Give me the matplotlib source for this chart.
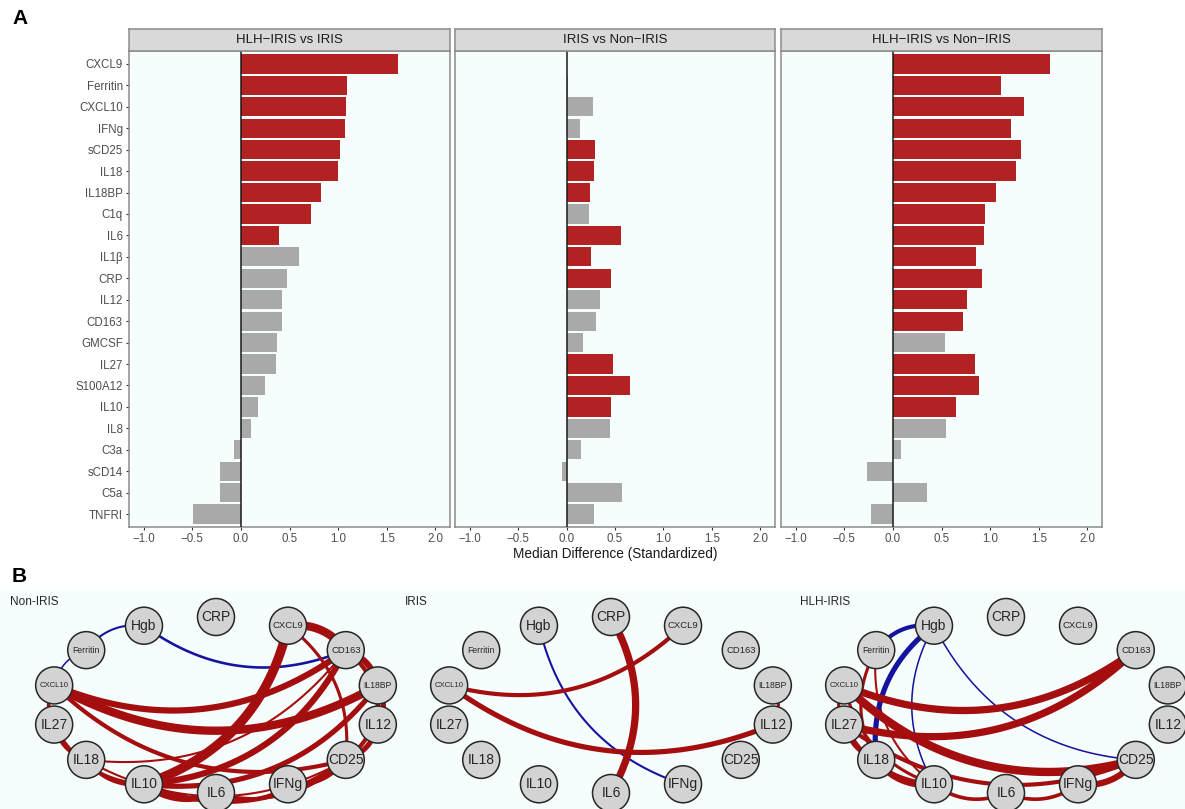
import numpy as np
import matplotlib
matplotlib.use("Agg")
import matplotlib.pyplot as plt
from matplotlib.patches import Circle
from matplotlib.ticker import FuncFormatter

plt.rcParams["font.family"] = ["Liberation Sans", "DejaVu Sans"]

W, H = 1185, 809

# ---- panel A data: median difference (standardized) per marker ----
MARKERS = ["CXCL9", "Ferritin", "CXCL10", "IFNg", "sCD25", "IL18", "IL18BP", "C1q",
           "IL6", "IL1\u03b2", "CRP", "IL12", "CD163", "GMCSF", "IL27", "S100A12",
           "IL10", "IL8", "C3a", "sCD14", "C5a", "TNFRI"]
COMPARISONS = ["HLH\u2212IRIS vs IRIS", "IRIS vs Non\u2212IRIS", "HLH\u2212IRIS vs Non\u2212IRIS"]

DIFF_HLH_VS_IRIS = [1.62, 1.09, 1.08, 1.07, 1.02, 1.00, 0.82, 0.72, 0.39, 0.60, 0.47,
                    0.42, 0.42, 0.37, 0.36, 0.25, 0.18, 0.10, -0.07, -0.21, -0.21, -0.49]
DIFF_IRIS_VS_NON = [0.00, 0.02, 0.27, 0.14, 0.29, 0.28, 0.24, 0.23, 0.56, 0.25, 0.46,
                    0.35, 0.30, 0.17, 0.48, 0.65, 0.46, 0.45, 0.15, -0.05, 0.57, 0.28]
DIFF_HLH_VS_NON = [1.62, 1.11, 1.35, 1.21, 1.32, 1.27, 1.06, 0.95, 0.94, 0.85, 0.92,
                   0.76, 0.72, 0.54, 0.84, 0.89, 0.65, 0.55, 0.08, -0.27, 0.35, -0.22]

SIG_HLH_VS_IRIS = [1, 1, 1, 1, 1, 1, 1, 1, 1, 0, 0, 0, 0, 0, 0, 0, 0, 0, 0, 0, 0, 0]
SIG_IRIS_VS_NON = [0, 0, 0, 0, 1, 1, 1, 0, 1, 1, 1, 0, 0, 0, 1, 1, 1, 0, 0, 0, 0, 0]
SIG_HLH_VS_NON = [1, 1, 1, 1, 1, 1, 1, 1, 1, 1, 1, 1, 1, 0, 1, 1, 1, 0, 0, 0, 0, 0]

X_TICKS = [-1.0, -0.5, 0.0, 0.5, 1.0, 1.5, 2.0]

# ---- panel B data: correlation networks ----
NODES = ["Hgb", "Ferritin", "CXCL10", "IL27", "IL18", "IL10", "IL6", "IFNg",
         "CD25", "IL12", "IL18BP", "CD163", "CXCL9", "CRP"]
GROUPS = ["Non-IRIS", "IRIS", "HLH-IRIS"]

EDGES_NON_IRIS = [
    ("Hgb", "Ferritin", -0.58), ("Ferritin", "CXCL10", -0.56), ("Hgb", "CD163", -0.60),
    ("CXCL9", "CD163", 0.82), ("IL18BP", "CD163", 0.74), ("IL12", "CD163", 0.66),
    ("IL12", "IL18BP", 0.70), ("CD25", "IL12", 0.70), ("CD25", "IL18BP", 0.66),
    ("CD25", "CXCL9", 0.62), ("CXCL10", "CD163", 0.74), ("CXCL10", "IL18BP", 0.82),
    ("CXCL10", "CD25", 0.66), ("IL10", "CXCL9", 0.86), ("IL10", "CD163", 0.74),
    ("IL10", "IL18BP", 0.70), ("IL18", "CD163", 0.58), ("IL10", "IL6", 0.72),
    ("IL10", "CD25", 0.68), ("IL6", "CD25", 0.60), ("IL6", "IFNg", 0.58),
    ("IFNg", "CD25", 0.64), ("IL18", "IL10", 0.64), ("IL27", "IL18", 0.64),
    ("IL27", "IL10", 0.60), ("CXCL10", "IL27", 0.64), ("IL18", "CD25", 0.58),
]
EDGES_IRIS = [
    ("CXCL10", "CXCL9", 0.66), ("CXCL10", "IL12", 0.70), ("IL6", "CRP", 0.78),
    ("Hgb", "IFNg", -0.58), ("IL12", "IL18BP", 0.62),
]
EDGES_HLH_IRIS = [
    ("Hgb", "Ferritin", -0.66), ("Hgb", "IL18", -0.70), ("Hgb", "IL10", -0.56),
    ("Hgb", "CD25", -0.56), ("Ferritin", "IL18", 0.62), ("Ferritin", "IL10", 0.58),
    ("CXCL10", "IL27", 0.62), ("CXCL10", "CD163", 0.78), ("IL27", "CD163", 0.78),
    ("CXCL10", "CD25", 0.82), ("IL27", "CD25", 0.66), ("IFNg", "CD25", 0.74),
    ("IL27", "IL10", 0.66), ("IL18", "IL10", 0.74), ("IL27", "IL18", 0.62),
    ("IL10", "IL6", 0.64), ("IL6", "IFNg", 0.64), ("CXCL10", "IL10", 0.62),
]

RED = "#B22222"
GREY = "#A9A9A9"
PANEL_BG = "#F6FDFD"
EDGE_POS = "#A50E0E"
EDGE_NEG = "#1414A0"


def px_axes(fig, x0, y0, x1, y1):
    return fig.add_axes([x0 / W, 1 - y1 / H, (x1 - x0) / W, (y1 - y0) / H])


def fmt_tick(v, _pos):
    return f"{v:.1f}".replace("-", "\u2212")


fig = plt.figure(figsize=(W / 100, H / 100), dpi=100)
fig.patch.set_facecolor("white")

# ---------------- panel A ----------------
panels_x = [(129, 450), (455, 775), (781, 1102)]
diffs = [DIFF_HLH_VS_IRIS, DIFF_IRIS_VS_NON, DIFF_HLH_VS_NON]
sigs = [SIG_HLH_VS_IRIS, SIG_IRIS_VS_NON, SIG_HLH_VS_NON]
ypos = np.arange(len(MARKERS))

for k, ((x0, x1), vals, sig, title) in enumerate(zip(panels_x, diffs, sigs, COMPARISONS)):
    ax = px_axes(fig, x0, 51, x1, 527)
    ax.set_facecolor(PANEL_BG)
    colors = [RED if s else GREY for s in sig]
    ax.barh(ypos, vals, height=0.9, color=colors, zorder=2)
    ax.axvline(0, color="#1a1a1a", lw=1.1, zorder=3)
    ax.set_xlim(-1.15, 2.15)
    ax.set_ylim(len(MARKERS) - 0.4, -0.6)
    ax.set_xticks(X_TICKS)
    ax.xaxis.set_major_formatter(FuncFormatter(fmt_tick))
    ax.tick_params(axis="both", length=2.5, width=0.8, color="#333333",
                   labelcolor="#4D4D4D", labelsize=8.3, pad=2)
    if k == 0:
        ax.set_yticks(ypos, MARKERS)
    else:
        ax.set_yticks([])
    if k == 1:
        ax.set_xlabel("Median Difference (Standardized)", fontsize=9.8,
                      color="#1a1a1a", labelpad=1)
    for sp in ax.spines.values():
        sp.set_color("#8C8C8C")
        sp.set_linewidth(1.1)

    strip = px_axes(fig, x0, 29, x1, 51)
    strip.set_facecolor("#D9D9D9")
    strip.set_xticks([])
    strip.set_yticks([])
    for sp in strip.spines.values():
        sp.set_color("#8C8C8C")
        sp.set_linewidth(1.1)
    strip.text(0.5, 0.5, title, ha="center", va="center", fontsize=9.5,
               color="#1a1a1a", transform=strip.transAxes)

fig.text(12 / W, 1 - 18 / H, "A", fontsize=15, fontweight="bold", va="center")
fig.text(12 / W, 1 - 576 / H, "B", fontsize=15, fontweight="bold", va="center")

# ---------------- panel B ----------------
axb = px_axes(fig, 0, 590, W, H)
axb.set_facecolor(PANEL_BG)
axb.set_xlim(0, W)
axb.set_ylim(H, 590)
axb.set_xticks([])
axb.set_yticks([])
for sp in axb.spines.values():
    sp.set_visible(False)

n = len(NODES)
angles = np.deg2rad(90 + 360.0 / n * (np.arange(n) + 1))
RX, RY, CY = 166, 88, 705
NODE_R = 18.5
CURVE = 0.28
t = np.linspace(0, 1, 60)


def label_size(name):
    if len(name) <= 4:
        return 10
    if len(name) == 5:
        return 6.8
    if name == "CXCL10":
        return 5.6
    return 6.2


for g, (group, edges) in enumerate(zip(GROUPS, [EDGES_NON_IRIS, EDGES_IRIS, EDGES_HLH_IRIS])):
    off = 395 * g
    cx = off + 216
    pos = {name: (cx + RX * np.cos(a), CY - RY * np.sin(a)) for name, a in zip(NODES, angles)}

    axb.text(off + 10, 602, group, fontsize=8.5, color="#262626", va="center", ha="left")

    # edges as curved arcs, always drawn from the lower-index node to the higher one
    for a, b, r in sorted(edges, key=lambda e: abs(e[2])):
        if NODES.index(a) > NODES.index(b):
            a, b = b, a
        p0 = np.array(pos[a])
        p2 = np.array(pos[b])
        d = p2 - p0
        ctrl = (p0 + p2) / 2 + CURVE * np.array([-d[1], d[0]])
        curve = ((1 - t)[:, None] ** 2 * p0 + 2 * ((1 - t) * t)[:, None] * ctrl
                 + (t ** 2)[:, None] * p2)
        width_px = (abs(r) - 0.5) * 26
        axb.plot(curve[:, 0], curve[:, 1], color=EDGE_POS if r > 0 else EDGE_NEG,
                 lw=width_px * 0.72, solid_capstyle="butt", zorder=2)

    for name in NODES:
        x, y = pos[name]
        axb.add_patch(Circle((x, y), NODE_R, facecolor="#D3D3D3", edgecolor="#262626",
                             lw=1.1, zorder=4))
        axb.text(x, y, name, ha="center", va="center", fontsize=label_size(name),
                 color="#262626", zorder=5)

fig.savefig("out.png", dpi=100, facecolor="white")
